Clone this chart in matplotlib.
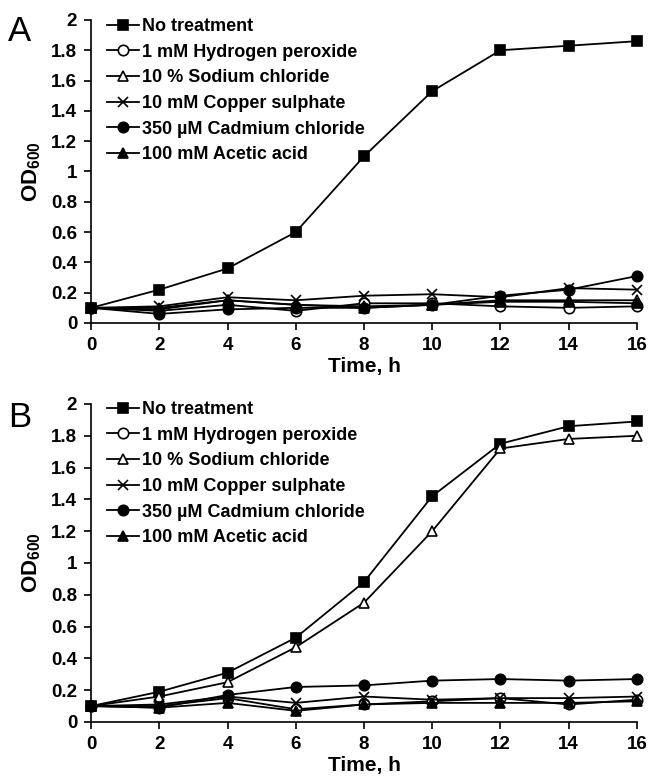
import numpy as np
import matplotlib
matplotlib.use("Agg")
import matplotlib.pyplot as plt

plt.rcParams['font.family'] = ['Liberation Sans', 'DejaVu Sans']
plt.rcParams['font.weight'] = 'bold'
plt.rcParams['axes.labelweight'] = 'bold'
plt.rcParams['mathtext.fontset'] = 'custom'
plt.rcParams['mathtext.bf'] = 'Liberation Sans:bold'
plt.rcParams['mathtext.rm'] = 'Liberation Sans:bold'
plt.rcParams['mathtext.default'] = 'bf'

# time points (h)
time_h = [0, 2, 4, 6, 8, 10, 12, 14, 16]

labels = ["No treatment", "1 mM Hydrogen peroxide", "10 % Sodium chloride",
          "10 mM Copper sulphate", "350 \u00b5M Cadmium chloride", "100 mM Acetic acid"]

# panel A
a_none = [0.10, 0.22, 0.36, 0.60, 1.10, 1.53, 1.80, 1.83, 1.86]
a_h2o2 = [0.10, 0.08, 0.12, 0.08, 0.13, 0.13, 0.11, 0.10, 0.11]
a_nacl = [0.10, 0.09, 0.15, 0.12, 0.11, 0.12, 0.15, 0.15, 0.15]
a_cuso4 = [0.10, 0.11, 0.17, 0.15, 0.18, 0.19, 0.17, 0.23, 0.22]
a_cdcl = [0.10, 0.06, 0.09, 0.10, 0.10, 0.12, 0.18, 0.22, 0.31]
a_acetic = [0.10, 0.10, 0.15, 0.12, 0.10, 0.12, 0.14, 0.14, 0.13]

# panel B
b_none = [0.10, 0.19, 0.31, 0.53, 0.88, 1.42, 1.75, 1.86, 1.89]
b_h2o2 = [0.10, 0.10, 0.15, 0.08, 0.11, 0.13, 0.15, 0.11, 0.14]
b_nacl = [0.10, 0.16, 0.25, 0.47, 0.75, 1.20, 1.72, 1.78, 1.80]
b_cuso4 = [0.10, 0.11, 0.16, 0.12, 0.16, 0.14, 0.15, 0.15, 0.16]
b_cdcl = [0.10, 0.09, 0.17, 0.22, 0.23, 0.26, 0.27, 0.26, 0.27]
b_acetic = [0.10, 0.09, 0.12, 0.07, 0.11, 0.12, 0.12, 0.12, 0.13]

ytick_labels = ['0', '0.2', '0.4', '0.6', '0.8', '1', '1.2', '1.4', '1.6', '1.8', '2']

styles = [dict(marker='s', mfc='k'),
          dict(marker='o', mfc='white'),
          dict(marker='^', mfc='white'),
          dict(marker='x', mfc='k'),
          dict(marker='o', mfc='k'),
          dict(marker='^', mfc='k')]

fig = plt.figure(figsize=(6.53, 7.80), dpi=100)
axA = fig.add_axes([0.1394, 0.5859, 0.836, 0.3885])
axB = fig.add_axes([0.1394, 0.0744, 0.836, 0.4077])

for ax, series in [(axA, [a_none, a_h2o2, a_nacl, a_cuso4, a_cdcl, a_acetic]),
                   (axB, [b_none, b_h2o2, b_nacl, b_cuso4, b_cdcl, b_acetic])]:
    for vals, lab, st in zip(series, labels, styles):
        ax.plot(time_h, vals, color='k', lw=1.3, mec='k', ms=7.5, mew=1.2,
                label=lab, clip_on=False, **st)
    ax.set_xlim(0, 16)
    ax.set_ylim(0, 2)
    ax.set_xticks(np.arange(0, 17, 2))
    ax.set_yticks(np.arange(0, 2.01, 0.2))
    ax.set_yticklabels(ytick_labels)
    ax.spines['top'].set_visible(False)
    ax.spines['right'].set_visible(False)
    ax.spines['left'].set_linewidth(1.2)
    ax.spines['bottom'].set_linewidth(1.2)
    ax.tick_params(direction='out', length=5, width=1.2, labelsize=13.5, pad=5)
    ax.set_xlabel('Time, h', fontsize=15, labelpad=2)
    ax.set_ylabel('OD$_{600}$', fontsize=16, labelpad=6)
    ax.legend(loc='upper left', bbox_to_anchor=(0.0, 1.06), frameon=False,
              handlelength=1.75, handletextpad=0.2, labelspacing=0.48,
              prop={'weight': 'bold', 'size': 13})

fig.text(0.012, 0.948, 'A', fontsize=25, fontweight='normal')
fig.text(0.012, 0.452, 'B', fontsize=25, fontweight='normal')

fig.savefig('out.png', dpi=100)
